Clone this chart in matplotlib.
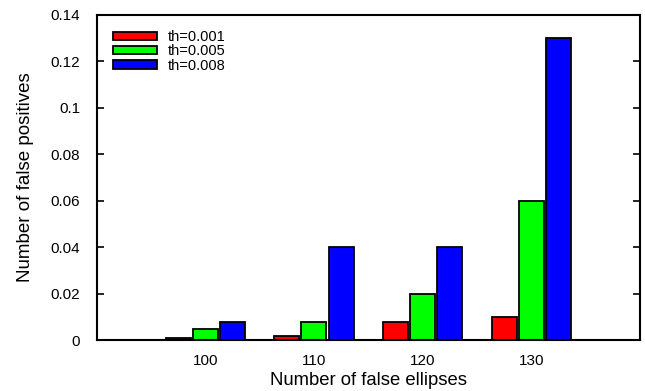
import numpy as np
import matplotlib
matplotlib.use("Agg")
import matplotlib.pyplot as plt

# data
groups = ["100", "110", "120", "130"]
th_labels = ["th=0.001", "th=0.005", "th=0.008"]
th_001 = [0.001, 0.002, 0.008, 0.010]
th_005 = [0.005, 0.008, 0.020, 0.060]
th_008 = [0.008, 0.040, 0.040, 0.130]
colors = ["#ff0000", "#00ff00", "#0000ff"]

plt.rcParams.update({"font.family": ["Liberation Sans", "DejaVu Sans"], "font.size": 11})

fig = plt.figure(figsize=(6.45, 3.91), dpi=100)
ax = fig.add_axes([0.150, 0.130, 0.842, 0.832])

x = np.arange(len(groups))
w = 0.23
for k, (vals, c, lab) in enumerate(zip([th_001, th_005, th_008], colors, th_labels)):
    ax.bar(x + (k - 1) * 0.25, vals, w, color=c, edgecolor="black", linewidth=1.3, label=lab)

ax.set_xlim(-1, 4)
ax.set_ylim(0, 0.14)
ax.set_xticks(x)
ax.set_xticklabels(groups)
ax.set_yticks(np.arange(0, 0.141, 0.02))
ax.set_yticklabels(["0", "0.02", "0.04", "0.06", "0.08", "0.1", "0.12", "0.14"])
ax.tick_params(axis="x", length=0, pad=10)
ax.tick_params(axis="y", direction="in", length=5, width=1.2, right=True, pad=12)
for s in ax.spines.values():
    s.set_linewidth(1.5)

ax.set_xlabel("Number of false ellipses", fontsize=13.3, labelpad=3)
ax.set_ylabel("Number of false positives", fontsize=13.5, labelpad=12)

ax.legend(loc="upper left", frameon=False, handlelength=3.0, handleheight=0.5,
          labelspacing=0.02, handletextpad=0.7, borderaxespad=0.3, fontsize=10.5,
          bbox_to_anchor=(0.012, 0.985))

fig.savefig("out.png", dpi=100)
